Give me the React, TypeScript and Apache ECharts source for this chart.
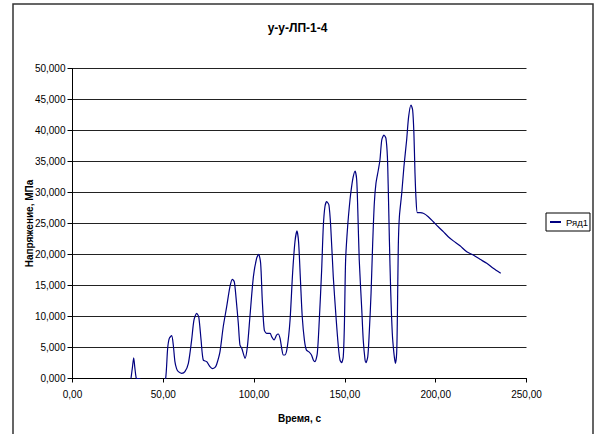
import React, { useEffect, useRef } from "react";
import * as echarts from "echarts";

const TITLE = "у-у-ЛП-1-4";
const X_NAME = "Время, с";
const Y_NAME = "Напряжение, МПа";
const SERIES_NAME = "Ряд1";

// time, s
const timeS: number[] = [
  32.2, 33.0, 33.7, 34.3, 35.0, 35.5, 36.9, 38.0, 50.0, 51.3,
  52.4, 53.3, 54.6, 55.5, 56.4, 57.3, 58.3, 60.1, 61.9, 63.8,
  65.6, 66.9, 68.4, 69.5, 70.8, 72.0, 73.9, 75.7, 77.0, 78.5,
  79.4, 81.2, 83.0, 84.9, 86.7, 88.0, 89.1, 90.0, 91.3, 92.2,
  93.2, 95.0, 96.3, 97.7, 99.6, 101.4, 102.5, 103.6, 104.5, 105.6,
  106.9, 108.8, 109.7, 111.0, 112.4, 113.3, 114.3, 115.2, 116.1, 117.0,
  118.3, 119.8, 121.2, 122.5, 123.6, 124.5, 125.5, 126.5, 127.7, 128.8,
  130.2, 131.6, 132.6, 133.5, 134.8, 135.9, 137.2, 138.1, 139.0, 140.0,
  141.2, 142.2, 143.6, 145.1, 146.4, 147.3, 148.2, 149.1, 149.7, 150.4,
  151.5, 152.8, 153.7, 154.6, 155.6, 156.5, 157.1, 157.9, 159.3, 160.1,
  161.1, 161.6, 162.6, 163.4, 164.4, 165.3, 166.2, 167.1, 168.4, 169.3,
  170.3, 171.5, 172.6, 173.4, 173.9, 174.5, 175.2, 176.1, 177.0, 177.8,
  178.5, 178.9, 179.4, 180.0, 181.3, 182.5, 184.0, 185.1, 186.4, 187.3,
  188.0, 188.6, 189.2, 189.9, 191.4, 193.2, 195.9, 198.7, 201.4, 204.2,
  206.9, 209.7, 213.4, 217.1, 220.7, 224.4, 228.1, 231.7, 235.8,
];

// stress, MPa
const stressMPa: number[] = [
  0.0, 1.8, 3.35, 1.8, 0.2, 0.0, 0.0, -0.5, -0.5, 0.0,
  4.87, 6.48, 6.9, 5.4, 2.71, 1.6, 1.1, 0.84, 1.1, 2.45,
  6.2, 9.44, 10.5, 9.97, 6.2, 2.98, 2.71, 1.9, 1.6, 1.8,
  2.3, 4.3, 8.35, 11.58, 14.8, 16.0, 15.6, 13.2, 8.9, 5.4,
  4.87, 3.26, 5.13, 9.97, 16.4, 19.4, 20.03, 18.58, 12.66, 7.82,
  7.29, 7.29, 6.74, 6.21, 7.02, 7.18, 6.48, 4.87, 3.79, 3.79,
  5.13, 9.44, 16.97, 22.06, 23.8, 22.0, 16.0, 10.0, 6.2, 4.6,
  4.3, 3.8, 3.0, 2.71, 4.06, 9.44, 17.5, 24.48, 27.7, 28.52,
  27.98, 24.48, 16.42, 9.97, 5.13, 2.98, 2.55, 3.52, 8.35, 19.1,
  24.48, 28.79, 30.94, 32.55, 33.47, 32.02, 27.18, 19.11, 11.05, 6.21,
  2.98, 2.55, 3.52, 7.29, 13.74, 21.8, 28.26, 31.48, 33.63, 35.24,
  38.47, 39.27, 38.74, 35.77, 30.4, 22.34, 14.27, 7.29, 4.06, 2.45,
  4.06, 9.97, 21.26, 26.1, 29.87, 34.16, 38.47, 42.23, 44.11, 43.31,
  39.55, 33.1, 28.79, 26.74, 26.74, 26.64, 26.1, 25.29, 24.48, 23.68,
  22.87, 22.2, 21.4, 20.45, 19.92, 19.22, 18.58, 17.77, 16.97,
];

const X_MIN = 0;
const X_MAX = 250;
const X_STEP = 50;
const Y_MIN = 0;
const Y_MAX = 50;
const Y_STEP = 5;

const FONT = "'Liberation Sans', Arial, sans-serif";

export default function App() {
  const ref = useRef<HTMLDivElement>(null);

  useEffect(() => {
    if (!ref.current) return;
    const chart = echarts.init(ref.current, null, { renderer: "svg" });
    const data = timeS.map((t, i) => [t, stressMPa[i]]);
    chart.setOption({
      animation: false,
      backgroundColor: "#ffffff",
      textStyle: { fontFamily: FONT, color: "#000" },
      title: {
        text: TITLE,
        left: "center",
        top: 22,
        padding: 0,
        textStyle: { fontFamily: FONT, fontSize: 12, fontWeight: "bold", color: "#000" },
      },
      legend: {
        left: 546,
        top: 213,
        orient: "vertical",
        padding: [4, 2, 4, 3],
        borderColor: "#000",
        borderWidth: 1,
        itemWidth: 11,
        itemHeight: 8,
        itemGap: 4,
        itemTextGap: 3,
        itemStyle: { opacity: 0 },
        textStyle: { fontFamily: FONT, fontSize: 9.5, color: "#000" },
        data: [SERIES_NAME],
      },
      graphic: [
        {
          type: "rect",
          shape: { x: 13, y: 4, width: 580, height: 460 },
          style: { fill: "none", stroke: "#333", lineWidth: 1.5 },
          silent: true,
          z: -1,
        },
      ],
      grid: { left: 72.5, right: 68.5, top: 68.5, bottom: 55.5, containLabel: false },
      xAxis: {
        type: "value",
        min: X_MIN,
        max: X_MAX,
        interval: X_STEP,
        name: X_NAME,
        nameLocation: "middle",
        nameGap: 35,
        nameMoveOverlap: false,
        nameTextStyle: { fontFamily: FONT, fontSize: 10, fontWeight: "bold", color: "#000" },
        axisLine: { show: true, onZero: false, lineStyle: { color: "#000", width: 1 } },
        axisTick: { show: true, length: 4, lineStyle: { color: "#000" } },
        axisLabel: {
          margin: 11,
          fontFamily: FONT,
          fontSize: 10,
          color: "#000",
          formatter: (v: number) => v.toFixed(2).replace(".", ","),
        },
        splitLine: { show: false },
      },
      yAxis: {
        type: "value",
        min: Y_MIN,
        max: Y_MAX,
        interval: Y_STEP,
        name: Y_NAME,
        nameLocation: "middle",
        nameGap: 38,
        nameMoveOverlap: false,
        nameTextStyle: { fontFamily: FONT, fontSize: 10, fontWeight: "bold", color: "#000" },
        axisLine: { show: true, lineStyle: { color: "#000", width: 1 } },
        axisTick: { show: true, length: 5, lineStyle: { color: "#000" } },
        axisLabel: {
          margin: 7,
          fontFamily: FONT,
          fontSize: 10,
          color: "#000",
          formatter: (v: number) => v.toFixed(3).replace(".", ","),
        },
        splitLine: { show: true, lineStyle: { color: "#222", width: 1 } },
      },
      series: [
        {
          name: SERIES_NAME,
          type: "line",
          data,
          symbol: "none",
          smooth: 0.25,
          clip: true,
          lineStyle: { color: "#000080", width: 1.2 },
          itemStyle: { color: "#000080" },
        },
      ],
    });
    return () => chart.dispose();
  }, []);

  return (
    <div
      ref={ref}
      style={{ position: "fixed", left: 0, top: 0, width: 595, height: 434, background: "#fff" }}
    />
  );
}
